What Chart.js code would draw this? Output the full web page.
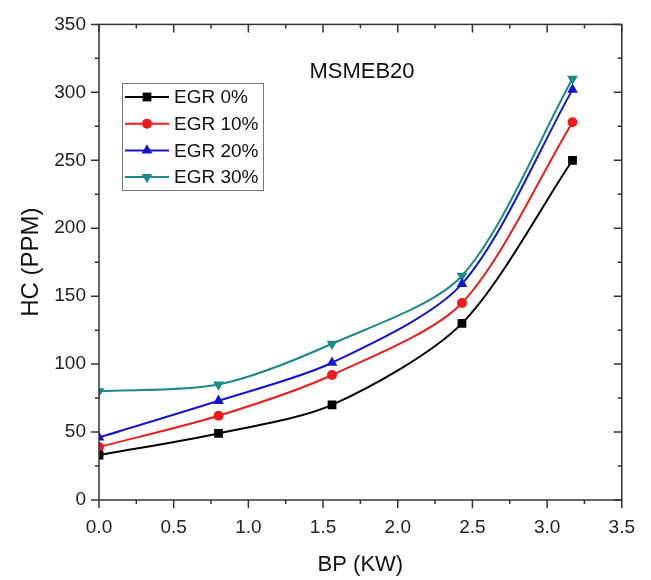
<!DOCTYPE html>
<html>
<head>
<meta charset="utf-8">
<script src="https://cdn.jsdelivr.net/npm/chart.js@4.4.1/dist/chart.umd.min.js"></script>
<style>
  html, body { margin: 0; padding: 0; background: #fff; }
  #wrap { width: 651px; height: 580px; }
</style>
</head>
<body>
<div id="wrap"><canvas id="chart" width="651" height="580"></canvas></div>
<script>
const bp = [0, 0.8, 1.56, 2.43, 3.17];
const egr0 = [33, 49, 70, 130, 250];
const egr10 = [39, 62, 92, 145, 278];
const egr20 = [46, 73, 101, 159, 302];
const egr30 = [80, 85, 115, 165, 310];
const seriesNames = ['EGR 0%', 'EGR 10%', 'EGR 20%', 'EGR 30%'];
const xTicks = [0, 0.5, 1, 1.5, 2, 2.5, 3, 3.5];
const yTicks = [0, 50, 100, 150, 200, 250, 300, 350];

const FONT = 'Arial, "Liberation Sans", sans-serif';
const colors = ['#000000', '#f01c1c', '#1414d2', '#1c8a8a'];
const styles = ['rect', 'circle', 'triangle', 'triangle'];
const rotations = [0, 0, 0, 180];
const radii = [6.2, 5, 6.2, 6.2];

const toPoints = ys => ys.map((y, i) => ({ x: bp[i], y: y }));

const datasets = [egr0, egr10, egr20, egr30].map((ys, i) => ({
  label: seriesNames[i],
  data: toPoints(ys),
  borderColor: colors[i],
  backgroundColor: colors[i],
  borderWidth: 2,
  pointStyle: styles[i],
  pointRotation: rotations[i],
  pointRadius: radii[i],
  pointBorderWidth: 0,
  tension: 0.28
}));

function marker(ctx, style, rot, r, x, y, color) {
  ctx.save();
  ctx.fillStyle = color;
  ctx.translate(x, y);
  ctx.rotate(rot * Math.PI / 180);
  ctx.beginPath();
  if (style === 'rect') {
    const s = r * Math.SQRT1_2;
    ctx.rect(-s, -s, 2 * s, 2 * s);
  } else if (style === 'circle') {
    ctx.arc(0, 0, r, 0, Math.PI * 2);
  } else {
    ctx.moveTo(0, -r);
    ctx.lineTo(r * 0.866, r * 0.5);
    ctx.lineTo(-r * 0.866, r * 0.5);
    ctx.closePath();
  }
  ctx.fill();
  ctx.restore();
}

const framePlugin = {
  id: 'frame',
  afterDraw(chart) {
    const ctx = chart.ctx;
    const a = chart.chartArea;
    const xs = chart.scales.x, ys = chart.scales.y;
    ctx.save();
    ctx.strokeStyle = '#333';
    ctx.lineWidth = 1.5;
    ctx.strokeRect(a.left, a.top, a.right - a.left, a.bottom - a.top);
    ctx.beginPath();
    for (let i = 0; i <= 14; i++) {
      const px = xs.getPixelForValue(i * 0.25);
      const len = i % 2 === 0 ? 8 : 4;
      ctx.moveTo(px, a.bottom); ctx.lineTo(px, a.bottom + len);
      ctx.moveTo(px, a.top); ctx.lineTo(px, a.top + len);
    }
    for (let i = 0; i <= 14; i++) {
      const py = ys.getPixelForValue(i * 25);
      const len = i % 2 === 0 ? 8 : 4;
      ctx.moveTo(a.left, py); ctx.lineTo(a.left - len, py);
      ctx.moveTo(a.right, py); ctx.lineTo(a.right - len, py);
    }
    ctx.stroke();

    // title inside plot
    ctx.fillStyle = '#111';
    ctx.font = '22px ' + FONT;
    ctx.textAlign = 'center';
    ctx.textBaseline = 'middle';
    ctx.fillText('MSMEB20', 362, 72);

    // legend box
    ctx.strokeStyle = '#777';
    ctx.lineWidth = 1;
    ctx.strokeRect(122.5, 83.5, 141, 107);
    ctx.font = '19px ' + FONT;
    ctx.textAlign = 'left';
    chart.data.datasets.forEach((ds, i) => {
      const y = 97 + i * 26.7;
      ctx.strokeStyle = colors[i];
      ctx.lineWidth = 2;
      ctx.beginPath();
      ctx.moveTo(125, y); ctx.lineTo(169, y);
      ctx.stroke();
      marker(ctx, styles[i], rotations[i], radii[i], 147, y, colors[i]);
      ctx.fillStyle = '#111';
      ctx.fillText(ds.label, 174, y + 1);
    });
    ctx.restore();
  }
};

new Chart(document.getElementById('chart'), {
  type: 'line',
  data: { datasets: datasets },
  options: {
    responsive: false,
    animation: false,
    layout: { padding: { left: 0, top: 24, right: 28, bottom: 0 } },
    plugins: { legend: { display: false }, tooltip: { enabled: false } },
    scales: {
      x: {
        type: 'linear',
        min: 0, max: 3.5,
        afterBuildTicks: s => { s.ticks = xTicks.map(v => ({ value: v })); },
        afterFit: s => { s.height = 80; },
        grid: { display: false, drawTicks: false },
        border: { display: false },
        ticks: {
          padding: 16,
          color: '#222',
          font: { family: FONT, size: 19 },
          callback: v => Number(v).toFixed(1)
        },
        title: {
          display: true, text: 'BP (KW)', color: '#111',
          font: { family: FONT, size: 22 },
          padding: { top: 0, bottom: 2 }
        }
      },
      y: {
        min: 0, max: 350,
        afterBuildTicks: s => { s.ticks = yTicks.map(v => ({ value: v })); },
        afterFit: s => { s.width = 99; },
        grid: { display: false, drawTicks: false },
        border: { display: false },
        ticks: {
          padding: 13,
          color: '#222',
          font: { family: FONT, size: 19 }
        },
        title: {
          display: true, text: 'HC (PPM)', color: '#111',
          font: { family: FONT, size: 24 },
          padding: { top: 17, bottom: 0 }
        }
      }
    }
  },
  plugins: [framePlugin]
});
</script>
</body>
</html>
